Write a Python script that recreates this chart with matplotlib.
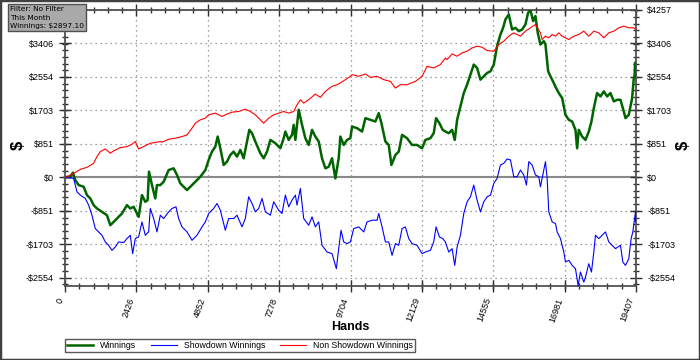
import matplotlib
matplotlib.use("Agg")
import matplotlib.pyplot as plt
from matplotlib.ticker import FixedLocator, AutoMinorLocator
from matplotlib.patches import Rectangle

plt.rcParams['font.family'] = ['Liberation Sans', 'DejaVu Sans']

# (hands, $)
win_points = [(0, 0), (180, 17), (270, 119), (350, -68), (463, -196), (633, -238), (746, -451), (860, -536),
              (973, -706), (1086, -791), (1256, -876), (1426, -962), (1540, -1217), (1653, -1132), (1766, -1047),
              (1936, -919), (2106, -706), (2219, -791), (2333, -749), (2503, -1004), (2616, -451), (2729, -621),
              (2809, -579), (2854, 145), (2956, -196), (3069, -536), (3126, -196), (3239, -196),
              (3353, -111), (3523, 187), (3693, 230), (3806, 60), (3920, -153), (4033, -238), (4146, -323),
              (4260, -238), (4430, -111), (4600, 17), (4770, 187), (4883, 443), (4996, 655), (5109, 783),
              (5189, 1038), (5279, 740), (5393, 315), (5506, 400), (5619, 570), (5733, 655), (5846, 528),
              (5959, 698), (6072, 485), (6186, 911), (6265, 1208), (6356, 1123), (6469, 911),
              (6640, 613), (6753, 485), (6867, 655), (6980, 953), (7150, 868), (7320, 740), (7433, 996),
              (7490, 1166), (7603, 953), (7716, 1081), (7773, 1336), (7830, 953), (7943, 1719), (8056, 1336),
              (8169, 996), (8283, 825), (8396, 1208), (8509, 1038), (8623, 911), (8736, 485), (8849, 230),
              (8963, 272), (9076, 485), (9189, -26), (9302, 485), (9359, 1038), (9472, 825), (9586, 953),
              (9699, 996),
              (9757, 1294), (9927, 1251), (10097, 1166), (10210, 1506), (10380, 1464), (10550, 1421),
              (10663, 1634), (10754, 1379), (10890, 911), (11003, 825), (11094, 315), (11230, 570),
              (11343, 655), (11456, 1081), (11626, 996), (11796, 825), (11966, 825), (12136, 740),
              (12249, 953), (12419, 996), (12532, 1123), (12612, 1506), (12725, 1379), (12838, 1208),
              (12929, 1166),
              (13043, 1123), (13157, 1208), (13247, 953), (13327, 1464), (13440, 1804), (13553, 2145),
              (13666, 2357), (13780, 2613), (13893, 2868), (14006, 2783), (14120, 2485), (14233, 2570),
              (14346, 2655), (14460, 2698), (14573, 2868), (14686, 3336), (14799, 3634), (14890, 3804),
              (14969, 4017), (15083, 4144), (15196, 3761), (15309, 3804), (15423, 3719), (15536, 3761),
              (15649, 3889), (15740, 4187), (15819, 4257), (15910, 3974), (15989, 4102), (16068, 3676),
              (16159, 3378),
              (16273, 3464), (16330, 3378), (16421, 2698), (16500, 2570), (16613, 2400), (16692, 2272),
              (16783, 2145), (16896, 2017), (17010, 1591), (17123, 1464), (17236, 1421), (17350, 1208),
              (17406, 740), (17463, 1208), (17576, 1038), (17690, 953), (17803, 1166), (17893, 1421),
              (17973, 1762), (18086, 2145), (18199, 2059), (18313, 2187), (18426, 2059), (18539, 2145),
              (18653, 1932), (18766, 1974), (18879, 1974), (18992, 1676), (19049, 1506), (19162, 1591),
              (19276, 2017), (19332, 2527), (19360, 2600), (19377, 2918), (19390, 2540), (19407, 2897)]

sd_points = [(0, 0), (293, -26), (406, -366), (520, -451), (690, -536), (803, -706), (916, -962), (1030, -1302),
             (1143, -1387), (1256, -1472), (1370, -1642), (1483, -1728), (1596, -1855), (1710, -1770),
             (1823, -1642), (1993, -1659), (2106, -1557), (2219, -1472), (2299, -1940), (2389, -1557),
             (2503, -1515), (2616, -1132), (2729, -1472), (2843, -1387), (2899, -791), (3013, -1047),
             (3126, -1387), (3239, -962),
             (3353, -1047), (3523, -877), (3636, -791), (3772, -749), (3863, -1047), (3976, -1259),
             (4146, -1387), (4316, -1600), (4486, -1472), (4656, -1259), (4770, -1132), (4883, -919),
             (5053, -791), (5166, -664), (5279, -834), (5449, -1345), (5563, -1047), (5733, -1047),
             (5846, -962), (6016, -1259), (6129, -1047), (6242, -494), (6356, -664), (6469, -877),
             (6583, -791), (6697, -536), (6810, -877), (6980, -962), (7093, -621), (7263, -834), (7376, -919),
             (7490, -451), (7603, -749), (7716, -579), (7830, -451), (7886, -706), (8000, -281), (8113, -1047),
             (8283, -1217), (8396, -1004), (8509, -1259), (8623, -1132), (8736, -1728), (8906, -1898),
             (9076, -1940), (9223, -2323), (9302, -1813), (9382, -1345), (9472, -1642), (9586, -1685),
             (9699, -1642),
             (9813, -1302), (9983, -1259), (10153, -1387), (10267, -1132), (10436, -1089), (10606, -1089),
             (10663, -919), (10776, -1259), (10890, -1642), (11003, -1642), (11116, -1983), (11230, -1685),
             (11343, -1728), (11456, -1302), (11569, -1259), (11683, -1557), (11796, -1685), (11966, -1728),
             (12136, -1940), (12249, -1898), (12419, -1855), (12532, -1642), (12612, -1259), (12725, -1515),
             (12838, -1557), (12929, -1642),
             (13043, -1898), (13157, -1813), (13247, -2238), (13327, -1770), (13440, -1472), (13553, -919),
             (13666, -621), (13780, -494), (13893, -196), (14006, -579), (14120, -877), (14233, -621),
             (14346, -494), (14460, -451), (14573, -153), (14686, -26), (14799, 315), (14913, 357),
             (15026, 468), (15140, 443), (15253, 17), (15366, 17), (15479, 187), (15593, 60), (15683, -196),
             (15763, 400), (15876, 315), (15989, 60), (16102, 17), (16159, -238),
             (16273, 187), (16330, 400), (16387, -26), (16443, -877), (16557, -1132), (16670, -1174),
             (16726, -1387), (16840, -1557), (16953, -1898), (17010, -2153), (17123, -2110), (17236, -2238),
             (17350, -2323), (17440, -2749), (17519, -2408), (17633, -2664), (17690, -2536), (17803, -2196),
             (17893, -2408), (17973, -1898), (18029, -1472), (18143, -1557), (18256, -1472), (18369, -1387),
             (18483, -1642), (18596, -1728), (18709, -1813), (18879, -1728), (18959, -2153), (19049, -2238),
             (19162, -2068), (19242, -1557), (19299, -1387), (19389, -877), (19400, -1130), (19407, -870)]

nsd_points = [(0, 0), (10, 0), (293, 102), (520, 204), (746, 255), (973, 357), (1086, 528), (1200, 655), (1370, 723),
              (1540, 613), (1653, 672), (1879, 757), (2106, 783), (2276, 842), (2389, 911), (2503, 723),
              (2673, 783), (2899, 868), (3239, 911),
              (3297, 894), (3523, 970), (3750, 996), (3976, 1038), (4146, 1081), (4316, 1251), (4430, 1379),
              (4600, 1464), (4770, 1506), (4883, 1591), (5109, 1634), (5336, 1549), (5449, 1591), (5676, 1659),
              (5903, 1676), (6129, 1736), (6299, 1676), (6469, 1591),
              (6640, 1464), (6753, 1379), (6923, 1506), (7093, 1591), (7263, 1634), (7433, 1676), (7603, 1634),
              (7773, 1676), (7886, 1847), (8000, 1974), (8113, 1889), (8283, 1974), (8509, 2119), (8679, 2034),
              (8849, 2187), (9076, 2315), (9246, 2357), (9359, 2400), (9529, 2485), (9699, 2570),
              (9757, 2613), (9983, 2570), (10210, 2630), (10380, 2544), (10606, 2570), (10833, 2485),
              (11060, 2442), (11230, 2272), (11399, 2357), (11626, 2357), (11909, 2442), (12136, 2570),
              (12306, 2825), (12532, 2783), (12759, 2868), (12929, 3038),
              (12987, 2996), (13157, 3140), (13327, 3081), (13496, 3166), (13666, 3208), (13836, 3293),
              (14006, 3336), (14176, 3310), (14346, 3225), (14573, 3208), (14743, 3378), (14913, 3464),
              (15083, 3591), (15253, 3676), (15479, 3591), (15649, 3719), (15819, 3804), (15989, 3889),
              (16159, 3676),
              (16217, 3506), (16330, 3591), (16443, 3549), (16557, 3634), (16670, 3591), (16783, 3676),
              (16896, 3591), (17010, 3549), (17123, 3506), (17293, 3591), (17463, 3634), (17633, 3719),
              (17803, 3591), (17973, 3719), (18143, 3676), (18313, 3549), (18483, 3676), (18653, 3719),
              (18823, 3804), (18992, 3847), (19162, 3804), (19332, 3804), (19407, 3761)]

hand_ticks = [0, 2426, 4852, 7278, 9704, 12129, 14555, 16981, 19407]
dollar_ticks = [-2554, -1703, -851, 0, 851, 1703, 2554, 3406, 4257]
series_names = ["Winnings", "Showdown Winnings", "Non Showdown Winnings"]
info_lines = ["Filter: No Filter", "This Month", "Winnings: $2897.10"]


def money(v):
    return "-$%d" % abs(v) if v < 0 else "$%d" % v


fig = plt.figure(figsize=(7, 3.6), dpi=100)
ax = fig.add_axes([65 / 700, 1 - 285.5 / 360, 571 / 700, 275.5 / 360])

# zero line + dotted grid
ax.axhline(0, color='#8a8a8a', lw=1.5, zorder=1)
for t in dollar_ticks:
    if t != 0:
        ax.axhline(t, color='#808080', lw=0.9, ls=(0, (1, 3)), zorder=0)
for t in hand_ticks:
    ax.axvline(t, color='#808080', lw=0.9, ls=(0, (1, 3)), zorder=0)

x, y = zip(*win_points)
ax.plot(x, y, color='#006400', lw=1.8, label=series_names[0], zorder=3)
x, y = zip(*sd_points)
ax.plot(x, y, color='#0000ff', lw=0.8, label=series_names[1], zorder=3)
x, y = zip(*nsd_points)
ax.plot(x, y, color='#ff0000', lw=0.8, label=series_names[2], zorder=4)

ax.set_xlim(0, 19407)
ax.set_ylim(-2750, 4257)

ax.xaxis.set_major_locator(FixedLocator(hand_ticks))
ax.yaxis.set_major_locator(FixedLocator(dollar_ticks))
ax.xaxis.set_minor_locator(AutoMinorLocator(5))
ax.yaxis.set_minor_locator(AutoMinorLocator(5))
ax.set_xticklabels([str(t) for t in hand_ticks], rotation=70, ha='right', va='top', fontsize=6.5)
ax.set_yticklabels([money(t) for t in dollar_ticks], fontsize=6.5)

ax.tick_params(which='both', direction='inout', top=True, right=True, labelright=True,
               color='#303030', width=1)
ax.tick_params(which='major', length=8, pad=4)
ax.tick_params(which='minor', length=5)
# the info box covers the top-left label
ax.yaxis.get_major_ticks()[-1].label1.set_visible(False)

for s in ax.spines.values():
    s.set_color('#505050')
    s.set_linewidth(1.3)

fig.text(350 / 700, 1 - 327 / 360, "Hands", fontsize=9, fontweight='bold', ha='center', va='center')
fig.text(18 / 700, 1 - 145 / 360, "$", rotation=90, fontsize=12, fontweight='bold',
         ha='center', va='center')
fig.text(683 / 700, 1 - 145 / 360, "$", rotation=90, fontsize=12, fontweight='bold',
         ha='center', va='center')

leg = fig.legend(loc='lower left', bbox_to_anchor=(65 / 700, 8 / 360, 350 / 700, 13 / 360),
                 mode='expand', ncol=3, fontsize=6.3, frameon=True, fancybox=False,
                 handlelength=3, borderpad=0.25, handletextpad=0.8, borderaxespad=0)
leg.get_frame().set_edgecolor('#303030')
leg.get_frame().set_linewidth(1)

fig.text(10 / 700, 1 - 6 / 360, "\n".join(info_lines), ha='left', va='top', fontsize=5.3,
         family='DejaVu Sans', linespacing=1.5,
         bbox=dict(boxstyle='square,pad=0.3', fc='#a9a9a9', ec='#505050', lw=1))

fig.patches.append(Rectangle((0, 0), 1, 1, transform=fig.transFigure, fill=False,
                             ec='#404040', lw=2.5))

fig.savefig("out.png", dpi=100, facecolor='white')
